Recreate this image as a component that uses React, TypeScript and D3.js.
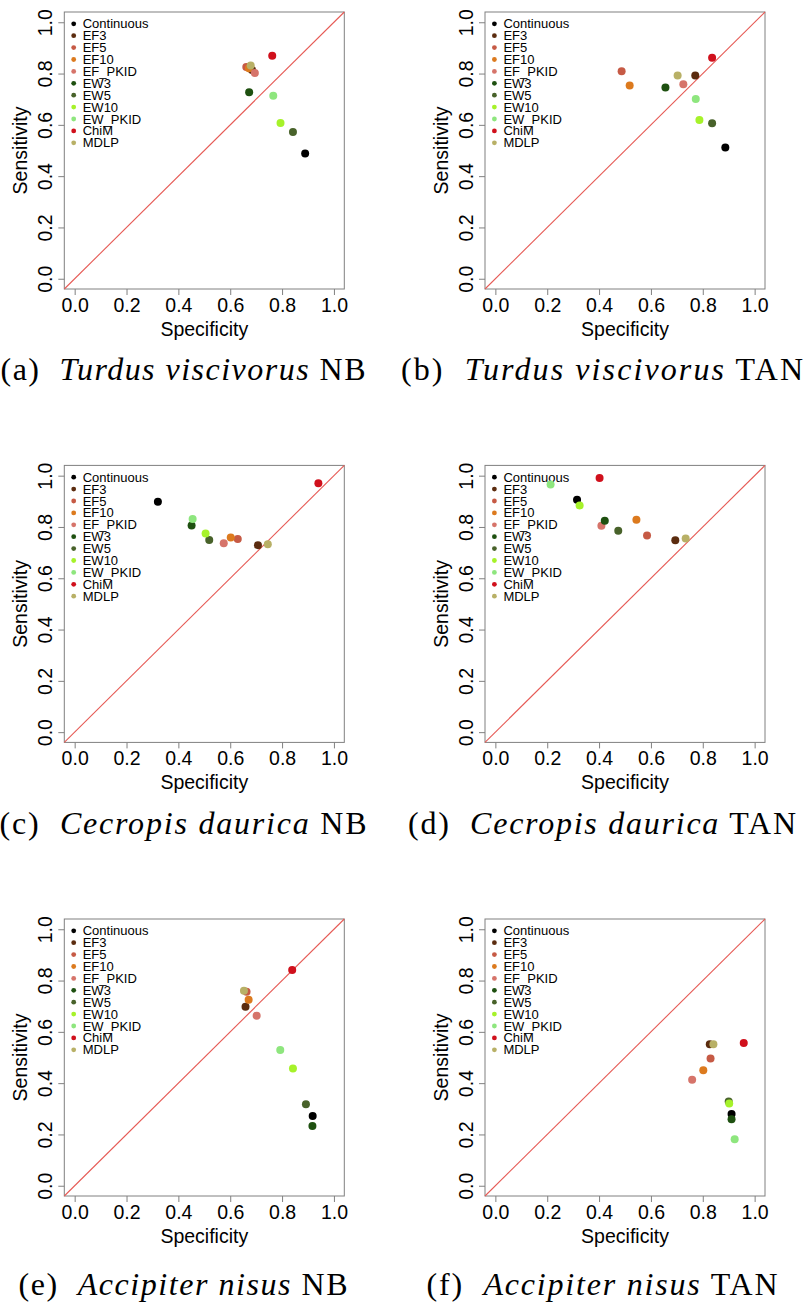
import React, { useEffect, useRef } from "react";
import * as d3 from "d3";

// discretisation methods, in legend / drawing order
const methods = ["Continuous", "EF3", "EF5", "EF10", "EF_PKID", "EW3", "EW5", "EW10", "EW_PKID", "ChiM", "MDLP"];
const methodColors = ["#000000", "#5b2c0f", "#c65a45", "#dc7a1e", "#d6746a", "#1e5010", "#48622a", "#a6f22a", "#8ee67e", "#d0101c", "#b8b066"];

const tickValues = [0, 0.2, 0.4, 0.6, 0.8, 1.0];
const tickLabels = ["0.0", "0.2", "0.4", "0.6", "0.8", "1.0"];

// (a) Turdus viscivorus NB
const specA = [0.889, 0.684, 0.662, 0.672, 0.695, 0.673, 0.842, 0.794, 0.766, 0.762, 0.679];
const sensA = [0.488, 0.814, 0.826, 0.821, 0.802, 0.727, 0.572, 0.607, 0.713, 0.869, 0.831];
// (b) Turdus viscivorus TAN
const specB = [0.887, 0.771, 0.487, 0.518, 0.725, 0.656, 0.836, 0.787, 0.773, 0.836, 0.703];
const sensB = [0.512, 0.792, 0.809, 0.753, 0.758, 0.746, 0.606, 0.619, 0.701, 0.862, 0.792];
// (c) Cecropis daurica NB
const specC = [0.321, 0.707, 0.629, 0.602, 0.575, 0.451, 0.519, 0.505, 0.455, 0.94, 0.745];
const sensC = [0.898, 0.729, 0.753, 0.759, 0.736, 0.806, 0.749, 0.774, 0.831, 0.97, 0.733];
// (d) Cecropis daurica TAN
const specD = [0.315, 0.694, 0.585, 0.544, 0.409, 0.422, 0.474, 0.325, 0.213, 0.402, 0.734];
const sensD = [0.906, 0.748, 0.767, 0.828, 0.805, 0.824, 0.785, 0.884, 0.966, 0.991, 0.755];
// (e) Accipiter nisus NB
const specE = [0.918, 0.659, 0.663, 0.671, 0.702, 0.917, 0.892, 0.842, 0.793, 0.839, 0.653];
const sensE = [0.272, 0.698, 0.756, 0.725, 0.663, 0.233, 0.318, 0.457, 0.529, 0.841, 0.76];
// (f) Accipiter nisus TAN
const specF = [0.911, 0.827, 0.83, 0.802, 0.759, 0.911, 0.9, 0.902, 0.923, 0.958, 0.841];
const sensF = [0.28, 0.552, 0.496, 0.45, 0.413, 0.259, 0.328, 0.321, 0.181, 0.557, 0.552];

const captionLabels = ["(a)", "(b)", "(c)", "(d)", "(e)", "(f)"];
const captionSpecies = ["Turdus viscivorus", "Turdus viscivorus", "Cecropis daurica", "Cecropis daurica", "Accipiter nisus", "Accipiter nisus"];
const captionModels = ["NB", "TAN", "NB", "TAN", "NB", "TAN"];

const panels = [
    { spec: specA, sens: sensA },
    { spec: specB, sens: sensB },
    { spec: specC, sens: sensC },
    { spec: specD, sens: sensD },
    { spec: specE, sens: sensE },
    { spec: specF, sens: sensF },
];

export default function App() {
    const ref = useRef<SVGSVGElement>(null);

    useEffect(() => {
        const svg = d3.select(ref.current);
        svg.selectAll("*").remove();

        // layout of the 3x2 grid
        const boxLeft = [64.3, 485];
        const boxTop = [12, 465.4, 919];
        const boxW = 280, boxH = 277;
        const captionY = [380, 834, 1295];
        const captionX = [183, 602];
        const captionW = [365, 402, 367, 388, 329, 351];
        const sans = "'Liberation Sans', Arial, Helvetica, sans-serif";
        const axisFont = 19.5;

        panels.forEach((p, i) => {
            const col = i % 2, row = Math.floor(i / 2);
            const left = boxLeft[col], top = boxTop[row];

            const x = d3.scaleLinear().domain([-0.04, 1.04]).range([left, left + boxW]);
            const y = d3.scaleLinear().domain([-0.04, 1.04]).range([top + boxH, top]);

            const g = svg.append("g");

            // x axis
            const xAxis = g.append("g")
                .attr("transform", `translate(0, ${top + boxH})`)
                .call(d3.axisBottom(x).tickValues(tickValues).tickSize(6).tickPadding(4)
                    .tickFormat((d, k) => tickLabels[k]));
            xAxis.select(".domain").remove();
            xAxis.selectAll("line").attr("stroke", "#808080");
            xAxis.selectAll("text")
                .attr("font-family", sans).attr("font-size", axisFont).attr("fill", "#000")
                .attr("y", 16).attr("dy", "0.35em");

            // y axis, labels rotated as in R
            const yAxis = g.append("g")
                .attr("transform", `translate(${left}, 0)`)
                .call(d3.axisLeft(y).tickValues(tickValues).tickSize(6)
                    .tickFormat((d, k) => tickLabels[k]));
            yAxis.select(".domain").remove();
            yAxis.selectAll("line").attr("stroke", "#808080");
            yAxis.selectAll("text")
                .attr("font-family", sans).attr("font-size", axisFont).attr("fill", "#000")
                .attr("x", 0).attr("dy", "0.35em")
                .attr("text-anchor", "middle")
                .attr("transform", "translate(-19,0) rotate(-90)");

            // box
            g.append("rect")
                .attr("x", left).attr("y", top).attr("width", boxW).attr("height", boxH)
                .attr("fill", "none").attr("stroke", "#808080").attr("stroke-width", 1);

            // axis titles
            g.append("text")
                .attr("x", left + boxW / 2).attr("y", top + boxH + 40).attr("dy", "0.35em")
                .attr("text-anchor", "middle").attr("font-family", sans).attr("font-size", axisFont)
                .text("Specificity");
            g.append("text")
                .attr("transform", `translate(${left - 44}, ${top + boxH / 2}) rotate(-90)`)
                .attr("dy", "0.35em")
                .attr("text-anchor", "middle").attr("font-family", sans).attr("font-size", axisFont)
                .text("Sensitivity");

            // diagonal y = x
            const diag = d3.line<number>().x(d => x(d)).y(d => y(d));
            g.append("path")
                .attr("d", diag([-0.04, 1.04]))
                .attr("fill", "none")
                .attr("stroke", "#e65a55").attr("stroke-width", 1.1);

            // legend
            const legend = g.append("g");
            methods.forEach((m, k) => {
                const ly = top + 11.8 + k * 11.9;
                legend.append("circle")
                    .attr("cx", left + 9.4).attr("cy", ly).attr("r", 2.4)
                    .attr("fill", methodColors[k]);
                legend.append("text")
                    .attr("x", left + 18.4).attr("y", ly).attr("dy", "0.35em")
                    .attr("font-family", sans).attr("font-size", 13)
                    .text(m);
            });

            // points
            g.selectAll(".pt")
                .data(p.spec)
                .enter()
                .append("circle")
                .attr("cx", d => x(d))
                .attr("cy", (d, k) => y(p.sens[k]))
                .attr("r", 4)
                .attr("fill", (d, k) => methodColors[k]);

            // caption
            const cap = svg.append("text")
                .attr("x", captionX[col]).attr("y", captionY[row])
                .attr("text-anchor", "middle")
                .attr("font-family", "'Liberation Serif', 'Times New Roman', serif")
                .attr("font-size", 32)
                .attr("textLength", captionW[i])
                .attr("lengthAdjust", "spacing");
            cap.append("tspan").text(captionLabels[i] + "\u00a0 ");
            cap.append("tspan").attr("font-style", "italic").text(captionSpecies[i]);
            cap.append("tspan").text(" " + captionModels[i]);
        });
    }, []);

    return (
        <svg ref={ref} width={803} height={1307}
            style={{ position: "absolute", left: 0, top: 0, background: "#fff" }} />
    );
}
